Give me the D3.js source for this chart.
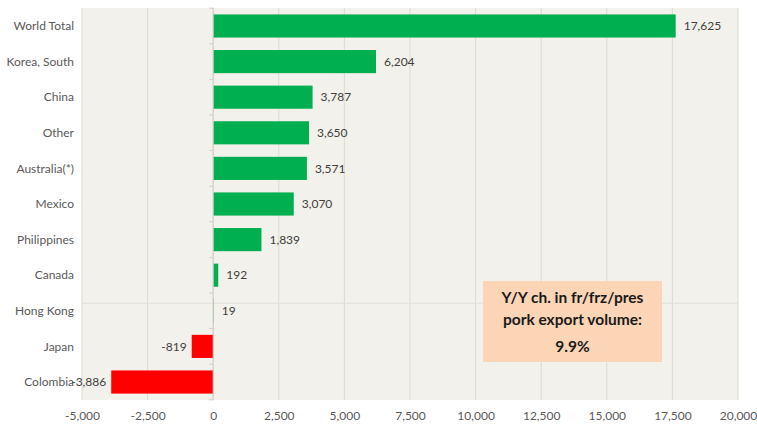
<!DOCTYPE html>
<html>
<head>
<meta charset="utf-8">
<script src="https://cdn.jsdelivr.net/npm/d3@7"></script>
<style>
body{margin:0;background:#fff;}
text{font-family:Lato,"Open Sans",sans-serif;}
</style>
</head>
<body>
<svg id="chart" width="757" height="424"></svg>
<script>
var countries = ["World Total","Korea, South","China","Other","Australia(*)","Mexico","Philippines","Canada","Hong Kong","Japan","Colombia"];
var changes = [17625,6204,3787,3650,3571,3070,1839,192,19,-819,-3886];
var xTicks = [-5000,-2500,0,2500,5000,7500,10000,12500,15000,17500,20000];
var noteLines = ["Y/Y ch. in fr/frz/pres","pork export volume:","9.9%"];

var svg = d3.select("#chart");
var plotLeft = 82, plotRight = 738, plotTop = 8, plotBottom = 400;
var fmt = function(v){return d3.format(",")(v).replace("\u2212", "-");};

var x = d3.scaleLinear().domain([-5000,20000]).range([plotLeft,plotRight]);
var y = d3.scaleBand().domain(countries).range([plotTop,plotBottom]).paddingInner(0.35).paddingOuter(0.18);

// plot background
svg.append("rect")
    .attr("x", plotLeft).attr("y", plotTop)
    .attr("width", plotRight-plotLeft).attr("height", plotBottom-plotTop)
    .attr("fill", "#f3f1eb");

// vertical gridlines
svg.append("g").selectAll("line")
    .data(xTicks)
    .enter()
    .append("line")
    .attr("x1", function(d){return x(d);})
    .attr("x2", function(d){return x(d);})
    .attr("y1", plotTop).attr("y2", plotBottom)
    .attr("stroke", "#dcdad4")
    .attr("stroke-width", 1);

// faint horizontal line through the Hong Kong row
var hk = y("Hong Kong") + 4;
svg.append("line")
    .attr("x1", plotLeft).attr("x2", plotRight)
    .attr("y1", hk).attr("y2", hk)
    .attr("stroke", "#e2e0d8");

// x axis labels
var xAxis = d3.axisBottom(x).tickValues(xTicks).tickSize(0).tickPadding(11).tickFormat(fmt);
var gx = svg.append("g")
    .attr("transform", "translate(0," + plotBottom + ")")
    .call(xAxis);
gx.select(".domain").remove();
gx.selectAll("text").attr("fill", "#595959").style("font-size", "12px").style("font-family", "Lato,'Open Sans',sans-serif");

// bars
svg.append("g").selectAll("rect")
    .data(countries)
    .enter()
    .append("rect")
    .attr("x", function(d,i){return x(Math.min(0,changes[i]));})
    .attr("y", function(d){return y(d);})
    .attr("width", function(d,i){return Math.abs(x(changes[i]) - x(0));})
    .attr("height", y.bandwidth())
    .attr("fill", function(d,i){return changes[i] >= 0 ? "#00b050" : "#ff0000";});

// zero axis with small ticks
svg.append("line")
    .attr("x1", x(0)).attr("x2", x(0))
    .attr("y1", plotTop).attr("y2", plotBottom)
    .attr("stroke", "#d0cec8");
svg.append("g").selectAll("line")
    .data(d3.range(countries.length+1))
    .enter()
    .append("line")
    .attr("x1", x(0)-4).attr("x2", x(0))
    .attr("y1", function(i){return plotTop + y.step()*y.paddingOuter() - y.step()*y.paddingInner()/2 + i*y.step();})
    .attr("y2", function(i){return plotTop + y.step()*y.paddingOuter() - y.step()*y.paddingInner()/2 + i*y.step();})
    .attr("stroke", "#d0cec8");

// category labels
svg.append("g").selectAll("text")
    .data(countries)
    .enter()
    .append("text")
    .attr("x", 74)
    .attr("y", function(d){return y(d) + y.bandwidth()/2;})
    .attr("dy", "0.35em")
    .attr("text-anchor", "end")
    .attr("fill", "#595959")
    .style("font-size", "12px")
    .text(function(d){return d;});

// value labels
svg.append("g").selectAll("text")
    .data(countries)
    .enter()
    .append("text")
    .attr("x", function(d,i){return changes[i] >= 0 ? x(changes[i]) + 8 : x(changes[i]) - 5;})
    .attr("y", function(d){return y(d) + y.bandwidth()/2;})
    .attr("dy", "0.35em")
    .attr("text-anchor", function(d,i){return changes[i] >= 0 ? "start" : "end";})
    .attr("fill", "#404040")
    .style("font-size", "12px")
    .text(function(d,i){return fmt(changes[i]);});

// note box
svg.append("rect")
    .attr("x", 483).attr("y", 281)
    .attr("width", 179).attr("height", 81)
    .attr("fill", "#fbd5b5");
svg.append("g").selectAll("text")
    .data(noteLines)
    .enter()
    .append("text")
    .attr("x", 572.5)
    .attr("y", function(d,i){return [303, 325, 352][i];})
    .attr("text-anchor", "middle")
    .attr("fill", "#1a1a1a")
    .style("font-size", "15.5px")
    .style("font-weight", "bold")
    .text(function(d){return d;});
</script>
</body>
</html>
